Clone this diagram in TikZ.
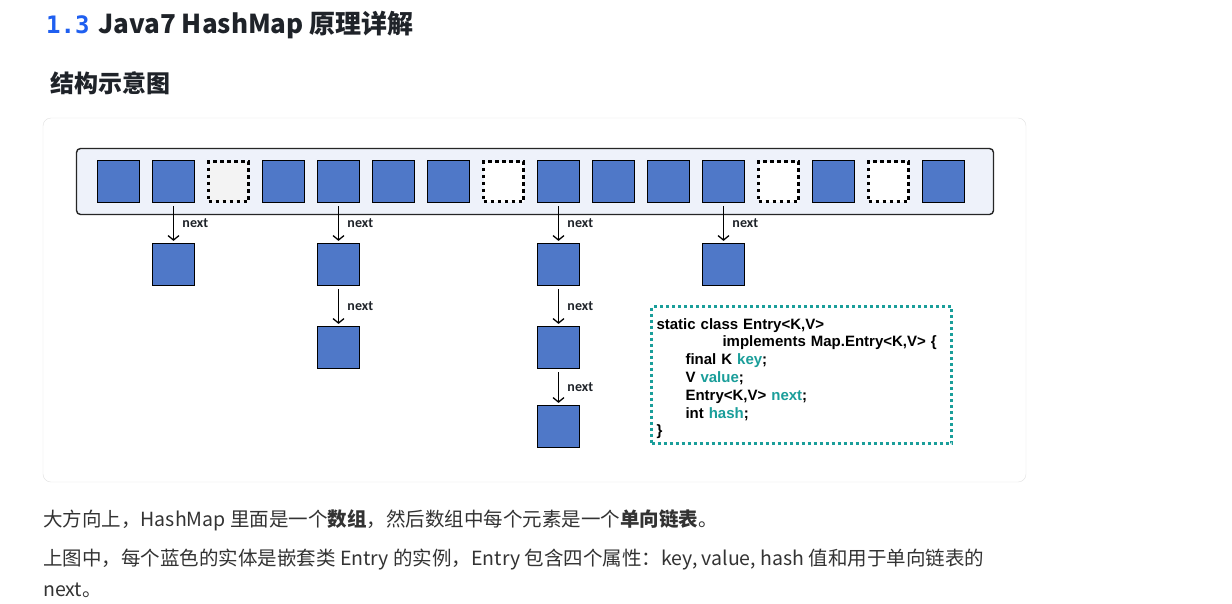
\documentclass[tikz,border=0pt]{standalone}
\usepackage{fontspec}
\usetikzlibrary{arrows.meta,positioning}
\newfontfamily\cjk{Noto Sans CJK SC}
\newfontfamily\codefont{Liberation Sans}
\newfontfamily\labelfont{Carlito}
\newfontfamily\numfont{DejaVu Sans Mono}
\definecolor{entryblue}{HTML}{4F78C8}
\definecolor{barfill}{HTML}{EEF2FA}
\definecolor{slotgray}{HTML}{F3F3F3}
\definecolor{codeteal}{HTML}{1A9E9A}
\definecolor{headblue}{HTML}{1F5FF0}
\definecolor{inkdark}{HTML}{1F2329}
\definecolor{bodytext}{HTML}{333333}
\definecolor{cardline}{HTML}{E0E0E0}
\newcommand{\kw}[1]{\textcolor{codeteal}{#1}}

\begin{document}
\begin{tikzpicture}[x=1pt, y=-1pt,
    entry/.style={rectangle, draw=black, fill=entryblue, line width=1.2pt, minimum size=42pt, inner sep=0pt},
    emptyslot/.style={rectangle, draw=black, fill=white, line width=3pt, dash pattern=on 3.5pt off 3.5pt, minimum size=40pt, inner sep=0pt},
    link/.style={-{Straight Barb[length=4.5pt, width=11pt]}, line width=1.3pt, shorten <=3pt, shorten >=2pt},
    lbl/.style={font=\labelfont\bfseries\fontsize{14}{14}\selectfont, text=inkdark, right=5pt},
    codebox/.style={draw=codeteal, line width=3pt, dash pattern=on 3pt off 3pt, minimum width=300pt, minimum height=137pt,
        text width=290pt, inner xsep=5pt, align=left, font=\codefont\bfseries\fontsize{15}{17.8}\selectfont}
]
    \useasboundingbox[fill=white] (0,0) rectangle (1232,603);

    % headings
    \node[anchor=base west, text=headblue, font=\numfont\bfseries\fontsize{24}{24}\selectfont, inner xsep=0pt] (num) at (46,33) {1.3};
    \node[anchor=base west, text=inkdark, font=\cjk\bfseries\fontsize{26}{26}\selectfont, inner xsep=0pt] (title) at (98,33) {Java7 HashMap 原理详解};
    \node[anchor=base west, text=inkdark, font=\cjk\bfseries\fontsize{24}{24}\selectfont, inner xsep=0pt] (sub) at (50,92) {结构示意图};

    % card and array
    \draw[cardline, rounded corners=8pt] (43,118) rectangle (1026,482);
    \node[draw=black!85, fill=barfill, line width=1.4pt, rounded corners=4pt, minimum width=917pt, minimum height=66pt] (array) at (535,181.5) {};

    \node[entry] (a0) at (118.5,181.5) {};
    \node[entry] (a1) at (173.5,181.5) {};
    \node[emptyslot, fill=slotgray] (a2) at (228.5,181.5) {};
    \node[entry] (a3) at (283.5,181.5) {};
    \node[entry] (a4) at (338.5,181.5) {};
    \node[entry] (a5) at (393.5,181.5) {};
    \node[entry] (a6) at (448.5,181.5) {};
    \node[emptyslot] (a7) at (503.5,181.5) {};
    \node[entry] (a8) at (558.5,181.5) {};
    \node[entry] (a9) at (613.5,181.5) {};
    \node[entry] (a10) at (668.5,181.5) {};
    \node[entry] (a11) at (723.5,181.5) {};
    \node[emptyslot] (a12) at (778.5,181.5) {};
    \node[entry] (a13) at (833.5,181.5) {};
    \node[emptyslot] (a14) at (888.5,181.5) {};
    \node[entry] (a15) at (943.5,181.5) {};

    % linked lists
    \node[entry] (b1) at (173.5,264.5) {};
    \node[entry] (b4) at (338.5,264.5) {};
    \node[entry] (c4) at (338.5,347.5) {};
    \node[entry] (b8) at (558.5,264.5) {};
    \node[entry] (c8) at (558.5,347.5) {};
    \node[entry] (d8) at (558.5,426.5) {};
    \node[entry] (b11) at (723.5,264.5) {};

    \draw[link] (a1) -- node[lbl] {next} (b1);
    \draw[link] (a4) -- node[lbl] {next} (b4);
    \draw[link] (b4) -- node[lbl] {next} (c4);
    \draw[link] (a8) -- node[lbl] {next} (b8);
    \draw[link] (b8) -- node[lbl] {next} (c8);
    \draw[link] (c8) -- node[lbl] {next} (d8);
    \draw[link] (a11) -- node[lbl] {next} (b11);

    % Entry class
    \node[codebox] (code) at (801.5,375) {\rule{0pt}{18pt}static class Entry<K,V>\\
        \hspace*{66pt}implements Map.Entry<K,V> \{\\
        \hspace*{29pt}final K \kw{key};\\
        \hspace*{29pt}V \kw{value};\\
        \hspace*{29pt}Entry<K,V> \kw{next};\\
        \hspace*{29pt}int \kw{hash};\\
        \}};

    % text below
    \node[anchor=base west, text=bodytext, font=\cjk\fontsize{19.5}{19.5}\selectfont, inner xsep=0pt] (line1) at (43,526)
        {大方向上，HashMap 里面是一个\textbf{数组}，然后数组中每个元素是一个\textbf{单向链表}。};
    \node[anchor=base west, text=bodytext, font=\cjk\fontsize{19.5}{19.5}\selectfont, inner xsep=0pt] (line2) at (43,565)
        {上图中，每个蓝色的实体是嵌套类 Entry 的实例，Entry 包含四个属性：key, value, hash 值和用于单向链表的};
    \node[anchor=base west, text=bodytext, font=\cjk\fontsize{19.5}{19.5}\selectfont, inner xsep=0pt] (line3) at (43,596) {next。};
\end{tikzpicture}
\end{document}
